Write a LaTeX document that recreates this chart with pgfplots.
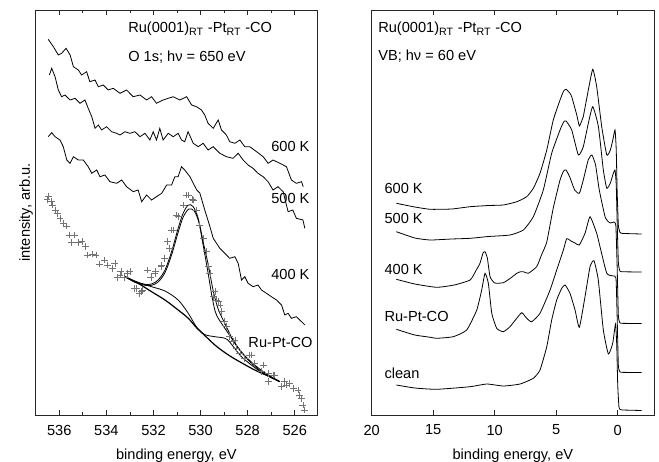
\documentclass[border=0pt,11pt]{standalone}
\usepackage{fontspec}
\setmainfont{Liberation Sans}
\usepackage{pgfplots}
\pgfplotsset{compat=1.18}

\pgfplotsset{
  xpsframe/.style={
    scale only axis, height=303.75pt, anchor=south west,
    x dir=reverse, ymin=0, ymax=405, ytick=\empty,
    tick align=inside, xtick pos=both, xticklabel pos=lower,
    major tick length=3.75pt, minor tick length=2pt,
    axis line style={black!85, line width=0.6pt},
    every tick/.style={black!85, line width=0.6pt},
    /pgf/number format/assume math mode=true,
    xticklabel style={yshift=-3.5pt},
    xlabel={binding energy, eV},
    xlabel style={at={(axis description cs:0.5,-0.101)}, anchor=center},
  },
  spec/.style={black, line width=0.6pt, mark=none},
}
\tikzset{txt/.style={inner sep=0pt}}

\begin{document}
\begin{tikzpicture}
\path[use as bounding box] (0,0) rectangle (494.25pt,345.75pt);

% ---- O 1s panel
\begin{axis}[xpsframe, at={(26.8pt,34.5pt)}, width=211pt,
  xmin=525.05, xmax=537, xtick={526,528,...,536}, minor x tick num=1,
  ylabel={intensity, arb.u.},
  ylabel style={at={(axis description cs:-0.034,0.5)}, anchor=center}]

% 600 K
\addplot[spec] coordinates {
(536.47,375.7) (536.25,368.3) (536.04,360) (535.90,361.7) (535.71,366.7)
(535.54,360) (535.40,348.3) (535.19,345) (535.05,340) (534.84,343.3)
(534.70,333.3) (534.48,335) (534.34,328.3) (534.13,330) (533.92,325)
(533.71,326.7) (533.42,321.7) (533.14,325) (532.86,318.3) (532.57,320)
(532.29,315) (532.08,318.3) (531.87,311.7) (531.59,315) (531.37,316.7)
(531.16,318.3) (530.88,315) (530.59,318.3) (530.38,310) (530.17,308.3)
(529.96,305) (529.82,300) (529.68,291.7) (529.46,286.7) (529.25,295)
(529.11,285) (528.90,280) (528.76,273.3) (528.54,271.7) (528.33,275)
(528.12,268.3) (527.91,268.3) (527.62,263.3) (527.34,258.3) (527.13,251.7)
(526.92,255) (526.63,251.7) (526.35,248.3) (526.14,235) (525.93,231.7)
(525.71,233.3) (525.64,228.3)
};
% 500 K
\addplot[spec] coordinates {
(536.42,340) (536.32,346.7) (536.18,338.3) (536.04,325) (535.90,318.3)
(535.76,320) (535.54,315) (535.33,316.7) (535.12,311.7) (534.91,315)
(534.77,306.7) (534.62,298.3) (534.48,286.7) (534.34,290) (534.20,285)
(533.99,288.3) (533.78,283.3) (533.56,281.7) (533.42,280) (533.21,283.3)
(533.00,281.7) (532.79,283.3) (532.57,278.3) (532.36,281.7) (532.15,275)
(532.01,283.3) (531.87,275) (531.73,286.7) (531.59,275) (531.37,281.7)
(531.16,278.3) (530.95,281.7) (530.81,275) (530.67,273.3) (530.53,283.3)
(530.31,271.7) (530.10,268.3) (529.89,271.7) (529.68,265) (529.46,268.3)
(529.18,261.7) (528.90,258.3) (528.62,256.7) (528.40,261.7) (528.19,255)
(527.98,250) (527.77,246.7) (527.56,241.7) (527.34,238.3) (527.13,233.3)
(526.92,225) (526.71,228.3) (526.49,223.3) (526.28,203.3) (526.08,205)
(525.93,196.7) (525.65,195) (525.57,186.7)
};
% 400 K
\addplot[spec] coordinates {
(536.47,278.3) (536.32,282.3) (536.18,278.3) (535.97,275) (535.83,268.3)
(535.68,255) (535.54,251.7) (535.40,258.3) (535.19,255) (534.98,255)
(534.77,248.3) (534.62,241.7) (534.41,245) (534.27,238.3) (534.06,240)
(533.85,233.3) (533.56,231.7) (533.35,235) (533.14,228.3) (532.86,223.3)
(532.65,225) (532.50,213.3) (532.29,220) (532.08,215) (531.87,218.3)
(531.65,221.7) (531.44,230) (531.23,230) (531.09,238.3) (530.95,238.3)
(530.81,248.3) (530.67,245) (530.45,238.3) (530.31,231.7) (530.16,225)
(530.03,222) (529.82,205) (529.60,188.3) (529.46,176.7) (529.32,171.7)
(529.18,166.7) (528.97,161.7) (528.76,156.7) (528.54,158.3) (528.40,151.7)
(528.26,135) (528.12,138.3) (527.98,131.7) (527.77,128.3) (527.56,130)
(527.41,125) (527.20,121.7) (526.99,118.3) (526.77,115) (526.56,110)
(526.42,100) (526.28,101.7) (526.14,96.7) (525.93,98.3) (525.71,93.3)
(525.57,90)
};
% Ru-Pt-CO data
\addplot[only marks, mark=+, mark size=2.6pt, black!55, line width=0.5pt] coordinates {
(536.52,215.7) (536.45,219) (536.32,213.3) (536.28,210) (536.17,205)
(536.07,201.7) (535.97,196.7) (535.83,191.7) (535.71,189) (535.57,180)
(535.50,172.3) (535.36,180) (535.18,172.3) (535.04,173.3) (534.90,168.3)
(534.79,160) (534.58,161) (534.44,160) (534.30,151) (534.09,155)
(533.95,150) (533.73,146.7) (533.64,151.7) (533.52,137.3) (533.42,140)
(533.38,143.3) (533.24,137.7) (533.10,141.7) (533.00,143.3) (532.82,126.7)
(532.71,126.7) (532.60,121.7) (532.50,123.3) (532.46,125) (532.25,145)
(532.11,137.7) (531.94,141.7) (531.90,143.3) (531.68,148.3) (531.65,150)
(531.54,156.7) (531.40,173.3) (531.33,166.7) (531.22,185) (531.16,185)
(531.02,200) (530.95,198.3) (530.74,210) (530.59,220) (530.53,220)
(530.34,215.7) (530.31,215) (530.17,205) (530.03,190) (529.89,176.7)
(529.74,163.3) (529.68,148.3) (529.60,141.7) (529.46,118.3) (529.39,123.3)
(529.32,115) (529.25,113.3) (529.18,110) (529.11,103.3) (528.97,93.3)
(528.90,88.3) (528.76,78.3) (528.62,73.3) (528.54,75) (528.47,66.7)
(528.33,61.7) (528.12,56.7) (527.91,60) (527.84,60) (527.70,51.7)
(527.41,43.3) (527.34,50) (527.13,41.7) (527.13,33.3) (526.92,40)
(526.85,40) (526.56,28.3) (526.42,33.3) (526.35,30) (526.21,31.7)
(526.07,26.7) (525.86,25) (525.79,20) (525.71,16.7) (525.65,10)
(525.57,5)
};
% fit: envelope
\addplot[spec, smooth] coordinates {
(533.21,138.3) (532.79,133.3) (532.36,130.7) (532.08,131) (531.80,135)
(531.51,145) (531.23,163.3) (530.95,186.7) (530.74,201.7) (530.52,210)
(530.31,208.3) (530.10,196.7) (529.89,173.3) (529.67,150) (529.46,124)
(529.25,106) (528.97,91.7) (528.54,71.7) (527.98,55) (527.41,43.3)
(526.90,37) (526.63,33.3)
};
% main component on background
\addplot[spec, smooth] coordinates {
(533.21,138.3) (532.79,132.7) (532.36,129.7) (532.08,129.7) (531.80,133)
(531.51,142.3) (531.23,160) (530.95,182.7) (530.74,197.7) (530.50,206)
(530.27,204) (530.07,192.7) (529.89,170) (529.70,145) (529.50,117)
(529.32,100) (528.83,82) (528.26,63) (527.70,50) (527.13,40)
(526.63,33.3)
};
% small component on background
\addplot[spec, smooth] coordinates {
(533.21,138.3) (532.65,132.7) (532.08,128.3) (531.51,124) (530.95,115)
(530.52,101.7) (530.17,88) (529.82,80.5) (529.39,78.3) (528.97,76.8)
(528.76,73) (528.26,58.3) (527.56,45) (527.13,39) (526.63,33.3)
};
% background
\addplot[spec, smooth, line width=0.9pt] coordinates {
(533.21,138.3) (532.65,131.7) (532.08,123.3) (531.51,115) (530.95,105)
(530.52,96.7) (530.17,87.3) (529.82,79.5) (529.39,70) (528.97,62.5)
(528.54,56) (527.70,45) (527.13,39) (526.63,33.3)
};

\node[txt, anchor=west] at (axis cs:533.08,386) {Ru(0001)\textsubscript{RT} -Pt\textsubscript{RT} -CO};
\node[txt, anchor=west] at (axis cs:533.08,358) {O 1s; hν = 650 eV};
\node[txt, anchor=east] at (axis cs:525.36,269) {600 K};
\node[txt, anchor=east] at (axis cs:525.36,217) {500 K};
\node[txt, anchor=east] at (axis cs:525.36,141) {400 K};
\node[txt, anchor=east] at (axis cs:525.23,73) {Ru-Pt-CO};
\end{axis}

% ---- valence band panel
\begin{axis}[xpsframe, at={(278.8pt,34.5pt)}, width=211.7pt,
  xmin=-2.95, xmax=20, xtick={0,5,...,20}]

% 600 K
\addplot[spec, smooth, tension=0.3] coordinates {
(18.0,211.7) (16.5,208) (15.24,205.7) (13.5,206) (12.0,208.3) (10.5,209.5)
(9.3,210) (8.2,213.3) (7.4,218.3) (6.86,226.7) (6.32,241.7) (5.77,265)
(5.24,295) (4.69,315) (4.4,324) (4.2,325.7) (3.9,322) (3.74,318.3)
(3.33,300) (3.12,289) (2.9,295) (2.8,298.3) (2.39,325) (2.03,345.7)
(1.71,328.3) (1.3,288.3) (0.89,260) (0.6,265) (0.4,275) (0.22,285)
(0.12,265) (0.05,225) (-0.05,190) (-0.15,184) (-0.3,181.7) (-1.95,181)
};
% 500 K
\addplot[spec, smooth, tension=0.3] coordinates {
(18.0,183.3) (16.5,177) (15.26,175) (13.5,176) (12.0,176.7) (10.5,178.5)
(8.75,180) (7.67,185) (6.86,198.3) (6.05,225) (5.37,261.7) (4.69,285)
(4.4,293) (4.2,294) (3.74,285) (3.2,260) (2.8,268.3) (2.39,291.7)
(2.03,308.3) (1.57,288.3) (1.17,245) (0.89,226.7) (0.6,232) (0.4,240)
(0.22,245) (0.12,230) (0.05,195) (-0.05,153) (-0.15,145) (-0.3,143.3)
(-1.95,143)
};
% 400 K
\addplot[spec, smooth, tension=0.3] coordinates {
(18.0,135.7) (16.5,131) (14.72,127.7) (13.3,130) (12.0,135) (11.5,145)
(11.2,151.7) (10.95,162) (10.79,163.3) (10.6,157) (10.38,138.3) (10.0,132)
(9.3,132.3) (8.7,137) (8.21,141.7) (7.9,143.3) (7.67,143.3) (7.27,141.7)
(6.59,148.3) (6.2,160) (5.77,173) (5.24,207) (4.69,235) (4.4,244)
(4.2,245) (3.9,238) (3.5,225) (3.12,221.7) (2.8,235) (2.4,255)
(2.1,260) (1.8,250) (1.5,225) (1.0,197) (0.6,192) (0.3,193)
(0.15,189) (0.05,150) (-0.05,100) (-0.15,93) (-0.3,91.7) (-1.95,91.5)
};
% Ru-Pt-CO
\addplot[spec, smooth, tension=0.3] coordinates {
(18.0,85.7) (16.5,80) (15.22,77.7) (14.72,76.7) (13.37,78.3) (12.28,85)
(11.46,105) (11.06,125) (10.79,141.7) (10.52,131.7) (10.24,101.7) (9.84,86.7)
(9.3,83.3) (8.76,88.3) (8.21,96.7) (7.8,102.3) (7.4,96.7) (7.0,93.3)
(6.32,101.7) (5.5,125) (4.96,145) (4.42,165) (4.15,176.3) (3.8,174)
(3.47,172) (3.12,170) (2.65,182) (2.25,198.3) (1.71,181.7) (1.44,168.3)
(0.89,141.7) (0.36,139) (0.14,136.7) (0.05,100) (-0.05,50) (-0.15,44)
(-0.3,42.7) (-1.95,42.5)
};
% clean
\addplot[spec, smooth, tension=0.3] coordinates {
(18.0,30) (16.5,27) (14.72,25.7) (12.0,28.3) (10.65,31) (9.3,29)
(7.94,31) (6.86,36.7) (6.32,45) (5.77,68.3) (5.37,95) (4.96,115)
(4.55,126.7) (4.28,130) (3.88,121.7) (3.47,105) (3.12,87.7) (2.66,118.3)
(2.25,148.3) (1.93,154.3) (1.58,135) (1.17,85) (0.76,61) (0.41,71.7)
(0.18,91) (0.08,70) (0.0,30) (-0.1,8) (-0.2,5.5) (-0.4,5) (-1.95,4.5)
};

\node[txt, anchor=west] at (axis cs:19.49,386) {Ru(0001)\textsubscript{RT} -Pt\textsubscript{RT} -CO};
\node[txt, anchor=west] at (axis cs:19.49,359) {VB; hν = 60 eV};
\node[txt, anchor=west] at (axis cs:18.98,227) {600 K};
\node[txt, anchor=west] at (axis cs:18.98,197) {500 K};
\node[txt, anchor=west] at (axis cs:18.98,146) {400 K};
\node[txt, anchor=west] at (axis cs:18.98,99) {Ru-Pt-CO};
\node[txt, anchor=west] at (axis cs:18.98,42) {clean};
\end{axis}
\end{tikzpicture}
\end{document}
